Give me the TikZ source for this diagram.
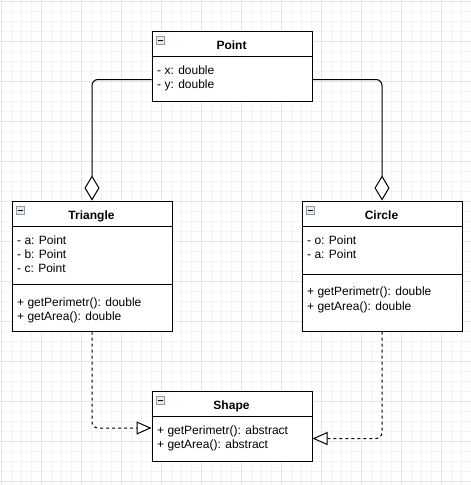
\documentclass[tikz,border=0pt]{standalone}
\usepackage{fontspec}
\setmainfont{Liberation Sans}
\usetikzlibrary{arrows.meta}
\definecolor{gridminor}{HTML}{F3F3F3}
\definecolor{gridmajor}{HTML}{E4E4E4}
\definecolor{iconedge}{HTML}{8A9AAB}
\definecolor{iconfill}{HTML}{E6EBF0}
\begin{document}
\begin{tikzpicture}[x=1pt,y=-1pt,
 box/.style={draw=black, line width=1pt, fill=white, minimum width=160pt, inner sep=0pt, anchor=north west},
 titletext/.style={font=\fontsize{12}{14}\selectfont\bfseries, anchor=base, inner sep=0pt},
 member/.style={font=\fontsize{12}{14}\selectfont, anchor=base west, inner sep=0pt},
 divider/.style={line width=1pt},
 conn/.style={line width=1pt, rounded corners=6pt},
 agg/.style={conn, -{Diamond[length=25pt, width=15pt, fill=white]}},
 realize/.style={conn, dash pattern=on 3pt off 3pt, -{Triangle[length=15pt, width=13pt, fill=white]}},
 icon/.style={draw=iconedge, fill=iconfill, line width=0.8pt, minimum size=8pt, inner sep=0pt, anchor=north west},
 minus/.style={line width=0.9pt}]
\useasboundingbox (0,0) rectangle (471,485);
% grid
\foreach \i in {0,...,47} {
  \draw[gridminor, line width=0.8pt] (1.5+10*\i,0) -- (1.5+10*\i,485);
  \draw[gridminor, line width=0.8pt] (0,1.5+10*\i) -- (471,1.5+10*\i);
}
\foreach \i in {0,...,12} {
  \draw[gridmajor, line width=0.8pt] (1.5+40*\i,0) -- (1.5+40*\i,485);
  \draw[gridmajor, line width=0.8pt] (0,1.5+40*\i) -- (471,1.5+40*\i);
}

% Point
\node[box, minimum height=70pt] (point) at (151.5,30.5) {};
\draw[divider] ([yshift=-26pt]point.north west) -- ([yshift=-26pt]point.north east);
\node[icon] (pointicon) at ([xshift=4.5pt,yshift=-5.5pt]point.north west) {};
\draw[minus] ([xshift=2pt]pointicon.west) -- ([xshift=-2pt]pointicon.east);
\node[titletext] (pointtitle) at (231.5,49.3) {Point};
\node[member] (px) at (157,74.3) {- x: double};
\node[member] (py) at (157,88.3) {- y: double};

% Triangle
\node[box, minimum height=130pt] (tri) at (11.5,200.5) {};
\draw[divider] ([yshift=-26pt]tri.north west) -- ([yshift=-26pt]tri.north east);
\draw[divider] ([yshift=-84pt]tri.north west) -- ([yshift=-84pt]tri.north east);
\node[icon] (triicon) at ([xshift=4.5pt,yshift=-5.5pt]tri.north west) {};
\draw[minus] ([xshift=2pt]triicon.west) -- ([xshift=-2pt]triicon.east);
\node[titletext] (trititle) at (91.5,219.3) {Triangle};
\node[member] (ta) at (17,244.3) {- a: Point};
\node[member] (tb) at (17,258.3) {- b: Point};
\node[member] (tc) at (17,272.3) {- c: Point};
\node[member] (tper) at (17,306.6) {+ getPerimetr(): double};
\node[member] (tarea) at (17,320.6) {+ getArea(): double};

% Circle
\node[box, minimum height=130pt] (circ) at (301.5,200.5) {};
\draw[divider] ([yshift=-26pt]circ.north west) -- ([yshift=-26pt]circ.north east);
\draw[divider] ([yshift=-74pt]circ.north west) -- ([yshift=-74pt]circ.north east);
\node[icon] (circicon) at ([xshift=4.5pt,yshift=-5.5pt]circ.north west) {};
\draw[minus] ([xshift=2pt]circicon.west) -- ([xshift=-2pt]circicon.east);
\node[titletext] (circtitle) at (381.5,219.3) {Circle};
\node[member] (co) at (307,244.3) {- o: Point};
\node[member] (ca) at (307,258.3) {- a: Point};
\node[member] (cper) at (307,295.8) {+ getPerimetr(): double};
\node[member] (carea) at (307,310.3) {+ getArea(): double};

% Shape
\node[box, minimum height=70pt] (shape) at (151.5,390.5) {};
\draw[divider] ([yshift=-26pt]shape.north west) -- ([yshift=-26pt]shape.north east);
\node[icon] (shapeicon) at ([xshift=4.5pt,yshift=-5.5pt]shape.north west) {};
\draw[minus] ([xshift=2pt]shapeicon.west) -- ([xshift=-2pt]shapeicon.east);
\node[titletext] (shapetitle) at (231.5,409.3) {Shape};
\node[member] (sper) at (157,434.3) {+ getPerimetr(): abstract};
\node[member] (sarea) at (157,448.3) {+ getArea(): abstract};

% connectors
\draw[agg] ([yshift=-13.5pt]point.west) -| (tri.north);
\draw[agg] ([yshift=-13.5pt]point.east) -| (circ.north);
\draw[realize] (tri.south) |- ([yshift=-2pt]shape.west);
\draw[realize] (circ.south) |- ([yshift=-12.5pt]shape.east);
\end{tikzpicture}
\end{document}
